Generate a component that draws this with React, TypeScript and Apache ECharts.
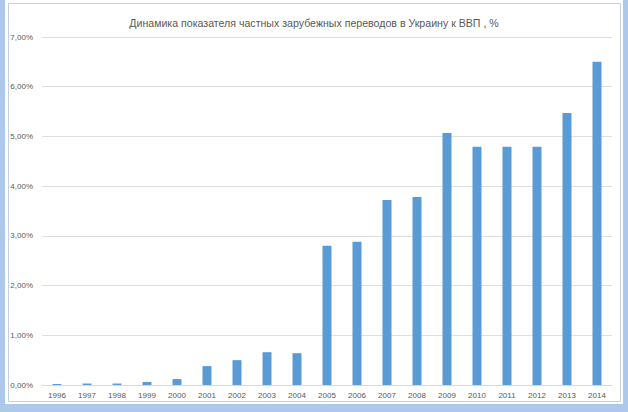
import React, { useEffect, useRef } from "react";
import * as echarts from "echarts";

const years = ["1996","1997","1998","1999","2000","2001","2002","2003","2004","2005","2006","2007","2008","2009","2010","2011","2012","2013","2014"];
const remittanceShare = [0.02,0.03,0.03,0.06,0.12,0.38,0.5,0.66,0.64,2.8,2.88,3.72,3.78,5.07,4.79,4.79,4.79,5.47,6.5];
const titleText = "Динамика показателя частных зарубежных переводов в Украину к ВВП , %";

export default function App() {
  const ref = useRef<HTMLDivElement>(null);
  useEffect(() => {
    document.body.style.margin = "0";
    const chart = echarts.init(ref.current!, null, { renderer: "svg" });
    chart.setOption({
      animation: false,
      backgroundColor: "#ffffff",
      title: {
        text: titleText,
        left: "center",
        top: 12,
        textStyle: { fontFamily: "Liberation Sans", fontSize: 10.6, fontWeight: "normal", color: "#595959" },
      },
      graphic: [
        { type: "rect", z: -10, silent: true, shape: { x: 0, y: 0, width: 628, height: 412 }, style: { fill: "#aec8ec" } },
        { type: "rect", z: -9, silent: true, shape: { x: 5, y: 0, width: 618, height: 404 }, style: { fill: "#ffffff" } },
        { type: "rect", z: -8, silent: true, shape: { x: 8.5, y: 3.5, width: 612, height: 398 }, style: { fill: "none", stroke: "#c4d0e0", lineWidth: 1 } },
      ],
      grid: { left: 42, right: 16, top: 37, bottom: 27, containLabel: false },
      xAxis: {
        type: "category",
        data: years,
        axisTick: { show: false },
        axisLine: { lineStyle: { color: "#d9d9d9" } },
        axisLabel: { color: "#595959", fontSize: 8, fontFamily: "Liberation Sans", margin: 6 },
      },
      yAxis: {
        type: "value",
        min: 0,
        max: 7,
        interval: 1,
        axisLine: { show: false },
        axisTick: { show: false },
        splitLine: { lineStyle: { color: "#dedede" } },
        axisLabel: {
          color: "#595959",
          fontSize: 8,
          fontFamily: "Liberation Sans",
          margin: 9,
          formatter: (v: number) => v.toFixed(2).replace(".", ",") + "%",
        },
      },
      series: [
        {
          type: "bar",
          data: remittanceShare,
          barWidth: 9,
          itemStyle: { color: "#5b9bd5" },
        },
      ],
    });
    return () => chart.dispose();
  }, []);
  return <div ref={ref} style={{ width: 628, height: 412, position: "absolute", left: 0, top: 0 }} />;
}
